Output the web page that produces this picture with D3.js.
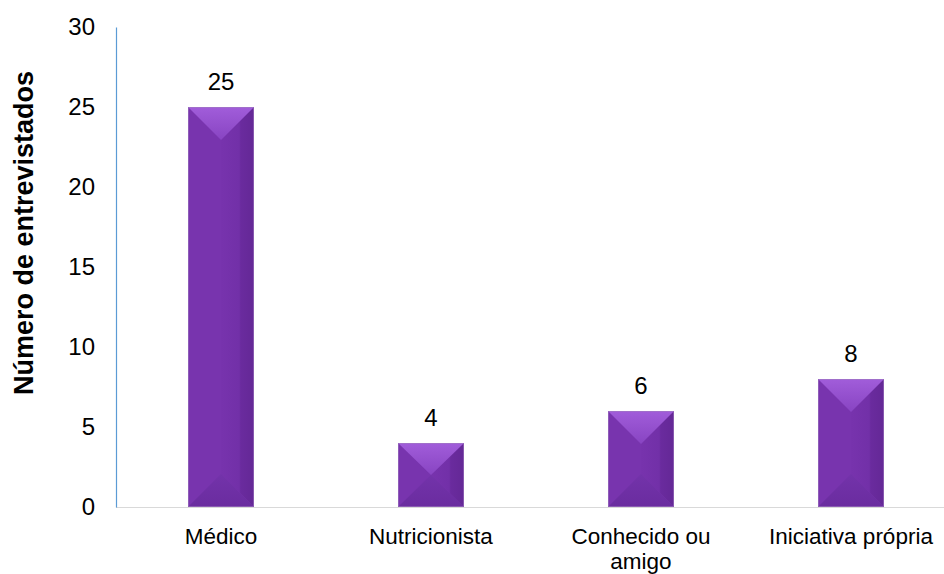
<!DOCTYPE html>
<html><head><meta charset="utf-8">
<script src="https://cdn.jsdelivr.net/npm/d3@7"></script>
<style>body{margin:0;background:#fff}svg{display:block}</style>
</head><body>
<svg id="c" width="944" height="574"></svg>
<script>
const categories = ["Médico", "Nutricionista", "Conhecido ou amigo", "Iniciativa própria"];
const categoryLines = [["Médico"], ["Nutricionista"], ["Conhecido ou", "amigo"], ["Iniciativa própria"]];
const values = [25, 4, 6, 8];
const yTicks = [0, 5, 10, 15, 20, 25, 30];
const yTitle = "Número de entrevistados";

const FONT = "Liberation Sans, Arial, sans-serif";
const svg = d3.select("#c");
const m = {l:116, r:956, t:27, b:507};
const x = d3.scaleBand().domain(categories).range([m.l, m.r]).paddingInner(0.686).paddingOuter(0.343);
const y = d3.scaleLinear().domain([0, 30]).range([m.b, m.t]);

const defs = svg.append("defs");
const gR = defs.append("linearGradient").attr("id","gr").attr("x1","0").attr("x2","1").attr("y1","0").attr("y2","0");
gR.append("stop").attr("offset","0").attr("stop-color","#7733ad");
gR.append("stop").attr("offset","0.55").attr("stop-color","#7230a8");
gR.append("stop").attr("offset","0.6").attr("stop-color","#6a2b9e");
gR.append("stop").attr("offset","1").attr("stop-color","#642896");
const gT = defs.append("linearGradient").attr("id","gt").attr("x1","0").attr("x2","0").attr("y1","0").attr("y2","1");
gT.append("stop").attr("offset","0").attr("stop-color","#a15dda");
gT.append("stop").attr("offset","1").attr("stop-color","#8844c2");
const gB = defs.append("linearGradient").attr("id","gb").attr("x1","0").attr("x2","0").attr("y1","0").attr("y2","1");
gB.append("stop").attr("offset","0").attr("stop-color","#7333aa");
gB.append("stop").attr("offset","1").attr("stop-color","#6a2c9f");

// baseline
svg.append("line").attr("x1", m.l).attr("x2", 944).attr("y1", y(0)+0.5).attr("y2", y(0)+0.5)
  .attr("stroke","#d9d9d9").attr("stroke-width",1);

// y axis
const ya = svg.append("g").attr("transform",`translate(${m.l},0)`).call(d3.axisLeft(y).tickValues(yTicks).tickSize(0).tickPadding(21));
ya.select(".domain").attr("stroke","#5b9bd5").attr("stroke-width",1.2);
ya.selectAll("text").attr("font-family",FONT).attr("font-size",24).attr("fill","#000");

// bars
values.forEach((v,i)=>{
  const c = categories[i];
  const x0 = x(c), w = x.bandwidth(), x1 = x0 + w, y0 = y(v), y1 = y(0);
  const h = y1 - y0;
  const d = Math.min(w/2, h/2);
  const cx = x0 + w/2;
  const g = svg.append("g");
  g.append("rect").attr("x",x0).attr("y",y0).attr("width",w).attr("height",h).attr("fill","#7733ad");
  g.append("polygon").attr("points",[[cx,y0+d],[x1,y0],[x1,y1],[cx,y1-d]].join(" ")).attr("fill","url(#gr)");
  g.append("polygon").attr("points",[[x0,y0],[cx,y0+d],[cx,y1-d],[x0,y1]].join(" ")).attr("fill","#7834ae");
  g.append("polygon").attr("points",[[x0,y1],[cx,y1-d],[x1,y1]].join(" ")).attr("fill","url(#gb)");
  g.append("polygon").attr("points",[[x0,y0],[cx,y0+d],[x1,y0]].join(" ")).attr("fill","url(#gt)");
  g.append("rect").attr("x",x0+0.5).attr("y",y0+0.5).attr("width",w-1).attr("height",h-1)
    .attr("fill","none").attr("stroke","#a07cc0").attr("stroke-width",1).attr("opacity",0.6);
  svg.append("text").attr("x",cx).attr("y",y0-17).attr("text-anchor","middle")
    .attr("font-family",FONT).attr("font-size",24).attr("fill","#000").text(v);
});

// category labels
categoryLines.forEach((lines,i)=>{
  const cx = x(categories[i]) + x.bandwidth()/2;
  const t = svg.append("text").attr("text-anchor","middle")
    .attr("font-family",FONT).attr("font-size",22.5).attr("fill","#000");
  lines.forEach((s,j)=>t.append("tspan").attr("x",cx).attr("y",544+j*24.5).text(s));
});

// y title
svg.append("text").attr("transform","translate(33,233) rotate(-90)").attr("text-anchor","middle")
  .attr("font-family",FONT).attr("font-size",27).attr("font-weight","bold")
  .attr("fill","#000").text(yTitle);
</script>
</body></html>
